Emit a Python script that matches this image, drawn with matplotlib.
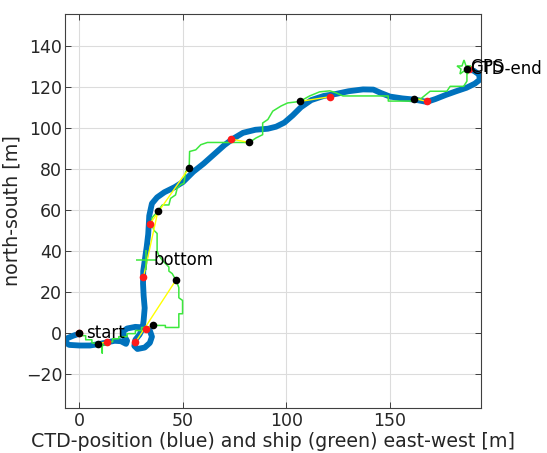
import numpy as np
import matplotlib.pyplot as plt

# CTD position (blue track), east-west / north-south in m
ctd_x = [0, -3, -6.5, -7.2, -5, 0, 5, 10, 14, 17, 20, 22.5, 23, 21.5, 21, 23, 27, 31, 34, 35,
         34, 31.5, 28, 26.5, 27, 29, 30.5, 31, 31.5, 31, 30.7, 30.8, 31.5, 32.5, 33.2, 33.5,
         33.7, 35, 37.5, 41, 46, 50, 55, 60, 65, 70, 74, 79, 85, 91, 95, 99, 103, 107, 112,
         118, 124, 130, 137, 142, 145.5, 150, 156, 162, 167.8, 172, 177, 182, 187, 191,
         193.5, 193, 190.5, 188]
ctd_y = [-0.5, -1.5, -3, -4.5, -6, -6.3, -6.3, -5.5, -4.6, -4, -4.2, -5.5, -4, -1.5, 0.5, 2,
         2.8, 2.5, 1, -2, -5, -7.3, -8, -6.5, -3.5, -1, 2, 6, 12, 18, 24, 30, 35, 42, 48, 53,
         57, 63, 66, 68.5, 71, 73.5, 78.5, 82.5, 87, 91.5, 94.5, 97.5, 99, 99.5, 100.5, 102.5,
         106, 110, 113.5, 115.5, 116.5, 117.8, 118.7, 118.6, 117, 115.2, 114.3, 113.7, 112.6,
         114, 116, 117.8, 119.5, 121.5, 123.5, 126, 127.8, 128.5]

# ship GPS track (green)
ship_x = [0, 0, 3, 3, 6, 6, 9, 11, 11, 11, 13, 13, 16, 16, 19, 19, 23, 23, 27, 27, 30, 30, 33,
          35.5, 41.5, 41.5, 48, 48, 49.8, 49.8, 48, 48, 46.6, 44.8, 43.2, 43.2, 40, 38.3, 37.5,
          37.5, 35.9, 35, 35, 37.9, 40, 43.2, 44, 46.4, 47.2, 48.9, 50.5, 51.3, 53, 53.2, 56.2,
          58.6, 61.8, 82, 85.3, 88.5, 88.5, 91, 93.4, 97.4, 100.6, 106.4, 111.2, 116, 121, 124,
          127.3, 149.2, 149.2, 161.8, 161.8, 165, 169.4, 177.5, 179.1, 185.6, 187.2, 187.2]
ship_y = [0, -1.5, -1.5, -3.5, -3.5, -5, -5.4, -5.4, -10, -6, -6, -4.5, -4.5, -3, -3, -2, -2,
          -0.5, -0.5, 1, 1, 2.5, 2.5, 3.5, 3.5, 2.5, 2.5, 9.2, 9.2, 15.7, 17, 22, 25.6, 28.8, 30,
          32, 35.3, 37.7, 40, 48.4, 50, 53, 56, 59.3, 62.3, 62.3, 65.5, 67.2, 70.4, 72.2, 72.9,
          78.6, 80.4, 88.4, 89.2, 91.7, 92.8, 92.8, 95, 96.6, 102.3, 104, 108.1, 110.6, 112.1,
          112.8, 115.5, 117.5, 118, 117, 115.5, 115.5, 113, 113, 114.2, 114.2, 117.8, 117.8,
          120.2, 120.2, 122.7, 128.6]

# ship positions (black) and matching CTD positions (red)
ship_pts_x = [0, 9, 35.5, 46.6, 37.9, 53, 82, 106.4, 161.8, 187]
ship_pts_y = [0, -5.4, 3.5, 25.6, 59.3, 80.4, 92.8, 112.8, 114.2, 128.6]
ctd_pts_x = [0, 13.2, 31.9, 27, 30.9, 34, 73.2, 120.8, 167.8, 188]
ctd_pts_y = [0, -4.6, 1.8, -4.8, 27, 53, 94.5, 115.1, 112.9, 128.5]

bottom_xy = (31.9, 35.3)
gps_xy = (185.6, 129.3)

fs_tick = 12.5
fs_lab = 13.7
fs_txt = 12
tc = '#262626'

fig = plt.figure(figsize=(5.47, 4.53), dpi=100)
ax = fig.add_axes([65 / 547, 1 - 408 / 453, 416 / 547, 394 / 453])

ax.plot(ctd_x, ctd_y, color='#0072BD', lw=4.2, solid_capstyle='round', zorder=2)
ax.plot(ship_x, ship_y, color='#3de83d', lw=1.1, zorder=3)
for i in range(len(ship_pts_x)):
    ax.plot([ship_pts_x[i], ctd_pts_x[i]], [ship_pts_y[i], ctd_pts_y[i]],
            color='#ffff00', lw=1, zorder=4)
ax.plot(ctd_pts_x, ctd_pts_y, 'o', color='#ff1a1a', ms=5.5, mec='none', zorder=5)
ax.plot(ship_pts_x, ship_pts_y, 'o', color='black', ms=5.5, mec='none', zorder=6)
ax.plot(*bottom_xy, '+', color='#3de83d', ms=14, mew=1.1, zorder=5)
ax.plot(*gps_xy, '*', color='#3de83d', ms=11, mfc='none', mew=1.1, zorder=5)

ax.text(3, 0, 'start', fontsize=fs_txt, va='center', ha='left', zorder=7)
ax.text(36, 35.3, 'bottom', fontsize=fs_txt, va='center', ha='left', zorder=7)
ax.text(188.8, 128.5, 'CTD-end', fontsize=fs_txt, va='center', ha='left', zorder=7,
        clip_on=False)
ax.text(188.8, 129.6, 'GPS', fontsize=fs_txt, va='center', ha='left', zorder=7,
        clip_on=False)

ax.set_xlim(-7, 194)
ax.set_ylim(-36.8, 155.5)
ax.set_xticks([0, 50, 100, 150])
ax.set_yticks(np.arange(-20, 141, 20))
ax.grid(True, color='#dcdcdc', lw=0.8)
ax.set_axisbelow(True)
ax.tick_params(direction='in', top=True, right=True, length=4, labelsize=fs_tick,
               colors=tc, width=0.6)
ax.tick_params(axis='y', pad=2)
ax.tick_params(axis='x', pad=3)
for s in ax.spines.values():
    s.set_color('#404040')
    s.set_linewidth(0.8)

ax.set_xlabel('CTD-position (blue) and ship (green) east-west [m]', fontsize=fs_lab,
              color=tc, labelpad=1)
ax.set_ylabel('north-south [m]', fontsize=fs_lab, color=tc, labelpad=3)

plt.savefig('out.png', dpi=100)
